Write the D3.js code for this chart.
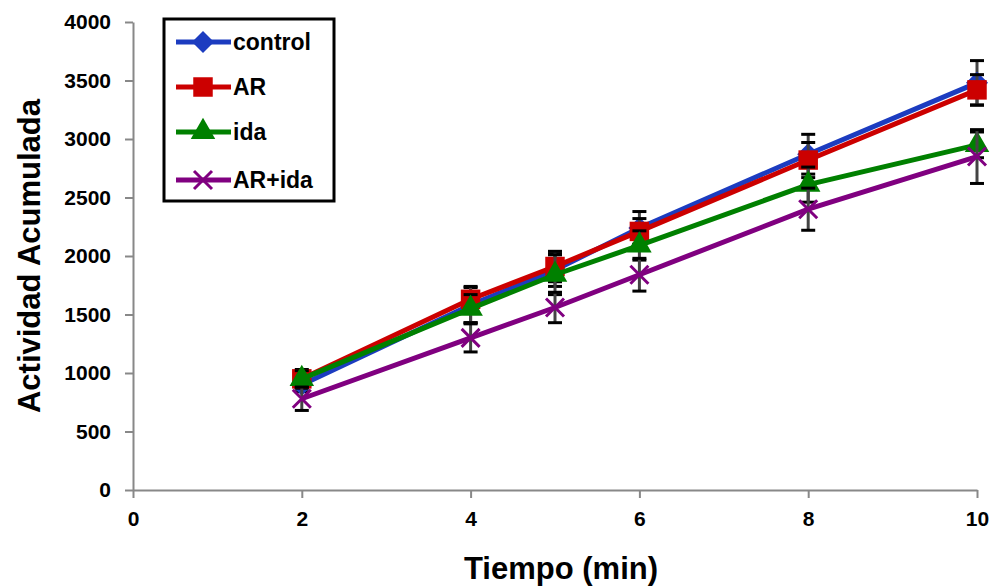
<!DOCTYPE html>
<html>
<head>
<meta charset="utf-8">
<script src="https://cdn.jsdelivr.net/npm/d3@7"></script>
<style>
  body { margin: 0; background: #fff; }
  text { font-family: "Liberation Sans", Arial, sans-serif; font-weight: bold; }
</style>
</head>
<body>
<script>
// values
const tiempo = [2, 4, 5, 6, 8, 10];
const control = [900, 1580, 1880, 2240, 2870, 3480];
const controlSE = [60, 150, 140, 140, 170, 190];
const ar = [950, 1630, 1910, 2210, 2820, 3420];
const arSE = [80, 110, 130, 110, 150, 130];
const ida = [950, 1550, 1840, 2090, 2610, 2950];
const idaSE = [70, 120, 170, 125, 150, 110];
const arIda = [780, 1300, 1560, 1840, 2400, 2850];
const arIdaSE = [100, 120, 130, 140, 180, 230];

const seriesNames = ['control', 'AR', 'ida', 'AR+ida'];
const xTicks = [0, 2, 4, 6, 8, 10];
const yTicks = [0, 500, 1000, 1500, 2000, 2500, 3000, 3500, 4000];

const colors = ['#1c3cc0', '#cc0000', '#008000', '#800080'];
const symbols = ['diamond', 'square', 'triangle', 'x'];

const series = [
    { name: seriesNames[0], vals: control, se: controlSE },
    { name: seriesNames[1], vals: ar, se: arSE },
    { name: seriesNames[2], vals: ida, se: idaSE },
    { name: seriesNames[3], vals: arIda, se: arIdaSE }
];

const W = 993, H = 587;
const margin = { top: 22, right: 16, bottom: 97, left: 133 };

const svg = d3.select('body').append('svg')
    .attr('width', W)
    .attr('height', H);

const x = d3.scaleLinear().domain([0, 10]).range([margin.left, W - margin.right]);
const y = d3.scaleLinear().domain([0, 4000]).range([H - margin.bottom, margin.top]);

// axes
const xAxis = svg.append('g')
    .attr('transform', `translate(0,${H - margin.bottom})`)
    .call(d3.axisBottom(x).tickValues(xTicks).tickFormat(d3.format('d'))
        .tickSize(8).tickPadding(13).tickSizeOuter(0));
const yAxis = svg.append('g')
    .attr('transform', `translate(${margin.left},0)`)
    .call(d3.axisLeft(y).tickValues(yTicks).tickFormat(d3.format('d'))
        .tickSize(8).tickPadding(14).tickSizeOuter(0));

[xAxis, yAxis].forEach(g => {
    g.select('.domain').attr('stroke', '#888').attr('stroke-width', 2);
    g.selectAll('.tick line').attr('stroke', '#888').attr('stroke-width', 2);
    g.selectAll('.tick text').attr('fill', '#000').style('font-size', '21px').style('font-weight', 'bold')
        .style('font-family', '"Liberation Sans", Arial, sans-serif');
});

// axis titles
svg.append('text')
    .attr('x', 561)
    .attr('y', 579)
    .attr('text-anchor', 'middle')
    .style('font-size', '31px')
    .text('Tiempo (min)');

svg.append('text')
    .attr('transform', `translate(40,${(margin.top + H - margin.bottom) / 2}) rotate(-90)`)
    .attr('text-anchor', 'middle')
    .style('font-size', '31px')
    .text('Actividad Acumulada');

const line = d3.line()
    .x((d, i) => x(tiempo[i]))
    .y(d => y(d));

function drawMarker(g, sym, color, cx, cy) {
    if (sym === 'x') {
        g.append('path')
            .attr('d', `M${cx - 9},${cy - 9}L${cx + 9},${cy + 9}M${cx - 9},${cy + 9}L${cx + 9},${cy - 9}`)
            .attr('stroke', color).attr('stroke-width', 3).attr('fill', 'none');
    } else if (sym === 'diamond') {
        g.append('path')
            .attr('d', `M${cx},${cy - 11}L${cx + 11},${cy}L${cx},${cy + 11}L${cx - 11},${cy}Z`)
            .attr('fill', color);
    } else {
        const type = { square: d3.symbolSquare, triangle: d3.symbolTriangle }[sym];
        const size = { square: 380, triangle: 260 }[sym];
        g.append('path')
            .attr('d', d3.symbol().type(type).size(size)())
            .attr('transform', `translate(${cx},${cy})`)
            .attr('fill', color);
    }
}

series.forEach((s, k) => {
    const g = svg.append('g');
    g.append('path')
        .datum(s.vals)
        .attr('d', line)
        .attr('fill', 'none')
        .attr('stroke', colors[k])
        .attr('stroke-width', 5);

    // error bars
    const eb = g.selectAll('.eb').data(s.vals).enter().append('g');
    eb.append('line')
        .attr('x1', (d, i) => x(tiempo[i])).attr('x2', (d, i) => x(tiempo[i]))
        .attr('y1', (d, i) => y(d - s.se[i])).attr('y2', (d, i) => y(d + s.se[i]))
        .attr('stroke', '#444').attr('stroke-width', 3);
    [-1, 1].forEach(sgn => {
        eb.append('line')
            .attr('x1', (d, i) => x(tiempo[i]) - 7).attr('x2', (d, i) => x(tiempo[i]) + 7)
            .attr('y1', (d, i) => y(d + sgn * s.se[i])).attr('y2', (d, i) => y(d + sgn * s.se[i]))
            .attr('stroke', '#000').attr('stroke-width', 3);
    });

    s.vals.forEach((v, i) => drawMarker(g, symbols[k], colors[k], x(tiempo[i]), y(v)));
});

// legend
const leg = svg.append('g');
leg.append('rect')
    .attr('x', 164).attr('y', 19)
    .attr('width', 170).attr('height', 182)
    .attr('fill', '#fff').attr('stroke', '#000').attr('stroke-width', 3);

const legRows = [42, 87, 132, 180];
series.forEach((s, k) => {
    const ly = legRows[k];
    leg.append('line')
        .attr('x1', 176).attr('x2', 231).attr('y1', ly).attr('y2', ly)
        .attr('stroke', colors[k]).attr('stroke-width', 5);
    drawMarker(leg, symbols[k], colors[k], 203, ly);
    leg.append('text')
        .attr('x', 233).attr('y', ly + 8)
        .style('font-size', '23px')
        .text(s.name);
});
</script>
</body>
</html>
